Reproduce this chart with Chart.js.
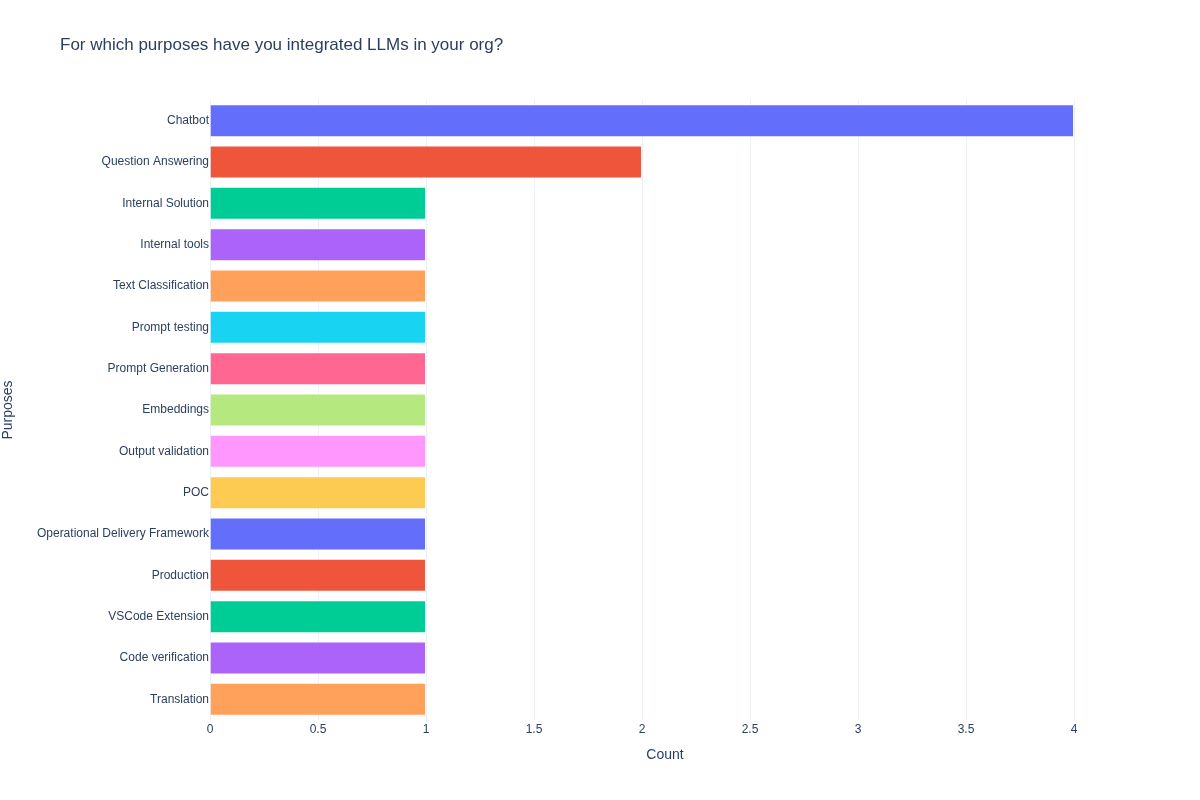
<!DOCTYPE html>
<html>
<head>
<meta charset="utf-8">
<script src="https://cdn.jsdelivr.net/npm/chart.js@4"></script>
<style>
  html, body { margin: 0; padding: 0; background: #fff; }
  #wrap { width: 1200px; height: 800px; position: relative; }
</style>
</head>
<body>
<div id="wrap"><canvas id="purposesChart"></canvas></div>
<script>
// data
const purposes = [
    'Chatbot', 'Question Answering', 'Internal Solution', 'Internal tools',
    'Text Classification', 'Prompt testing', 'Prompt Generation', 'Embeddings',
    'Output validation', 'POC', 'Operational Delivery Framework', 'Production',
    'VSCode Extension', 'Code verification', 'Translation'
];
const counts = [4, 2, 1, 1, 1, 1, 1, 1, 1, 1, 1, 1, 1, 1, 1];
const palette = ['#636efa', '#EF553B', '#00cc96', '#ab63fa', '#FFA15A',
                 '#19d3f3', '#FF6692', '#B6E880', '#FF97FF', '#FECB52'];

const FONT = '"Liberation Sans", Arial, sans-serif';
const INK = '#2a3f5f';

// chart title and x axis title, placed like the plotly original
const textPlugin = {
    id: 'plotTexts',
    afterDraw(chart) {
        const ctx = chart.ctx;
        ctx.save();
        ctx.fillStyle = INK;
        ctx.textBaseline = 'middle';
        ctx.font = '17px ' + FONT;
        ctx.textAlign = 'left';
        ctx.fillText('For which purposes have you integrated LLMs in your org?', 60, 45);
        ctx.font = '14px ' + FONT;
        ctx.textAlign = 'center';
        ctx.fillText('Count', 665, 755);
        ctx.restore();
    }
};

const ctx = document.getElementById('purposesChart').getContext('2d');
new Chart(ctx, {
    type: 'bar',
    data: {
        labels: purposes,
        datasets: [{
            data: counts,
            backgroundColor: purposes.map((_, i) => palette[i % palette.length]),
            borderColor: 'rgba(255,255,255,0.6)',
            borderWidth: 1,
            barPercentage: 0.8,
            categoryPercentage: 1.0
        }]
    },
    options: {
        indexAxis: 'y',
        responsive: true,
        maintainAspectRatio: false,
        animation: false,
        layout: { padding: { top: 100, right: 126, bottom: 0, left: 0 } },
        plugins: {
            legend: { display: false },
            title: { display: false },
            tooltip: { enabled: false }
        },
        scales: {
            x: {
                min: 0,
                max: 4,
                ticks: {
                    stepSize: 0.5, color: INK, font: { family: FONT, size: 12 }, padding: 2,
                    callback: v => String(v)
                },
                grid: { color: '#ebf0f8', drawTicks: false },
                border: { display: false },
                afterFit(scale) { scale.height = 80; }
            },
            y: {
                ticks: { color: INK, font: { family: FONT, size: 12 }, padding: 1, autoSkip: false },
                grid: { display: false, drawTicks: false },
                border: { display: false },
                title: { display: true, text: 'Purposes', color: INK, font: { family: FONT, size: 14 }, padding: 0 },
                afterFit(scale) { scale.width = 210; }
            }
        }
    },
    plugins: [textPlugin]
});
</script>
</body>
</html>
